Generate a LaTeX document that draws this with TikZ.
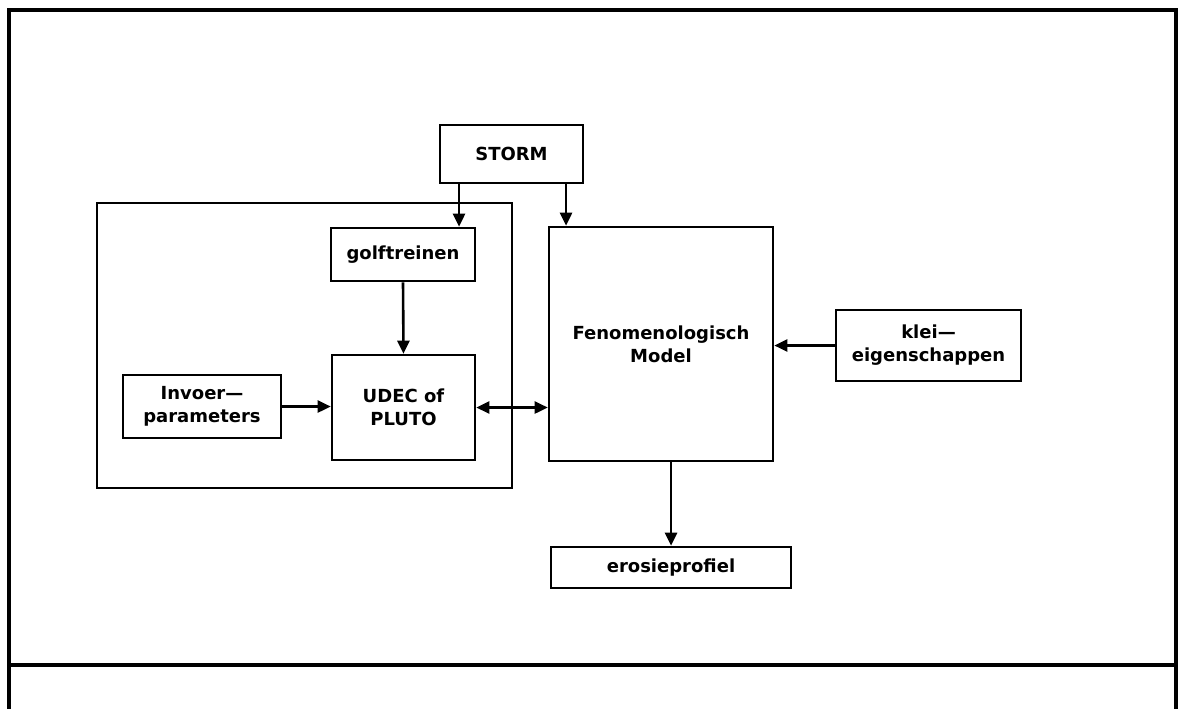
\documentclass[tikz,border=0pt]{standalone}
\usepackage{fontspec}
\setmainfont{DejaVu Sans}
\usetikzlibrary{arrows.meta}
\begin{document}
\begin{tikzpicture}[x=1pt,y=-1pt,
  box/.style={draw,line width=2.6pt,inner sep=0pt,align=center,
    font=\bfseries\fontsize{18}{23}\selectfont},
  arr/.style={line width=2.6pt,-{Triangle[length=13pt,width=12pt]}},
  darr/.style={line width=2.6pt,{Triangle[length=13pt,width=12pt]}-{Triangle[length=13pt,width=12pt]}}]
\useasboundingbox (0,0) rectangle (1183,709);
% outer frame
\draw[line width=3.5pt] (9,709) -- (9,10) -- (1176,10) -- (1176,709);
\draw[line width=3.5pt] (9,665) -- (1176,665);
% group box
\draw[line width=2.8pt] (97,203) rectangle (512,488);
% nodes
\node[box,minimum width=143pt,minimum height=58pt] (storm) at (511.5,154) {STORM};
\node[box,minimum width=144pt,minimum height=53pt] (golf) at (403,254.5) {golftreinen};
\node[box,minimum width=143pt,minimum height=105pt] (udec) at (403.5,407.5) {UDEC of\\PLUTO};
\node[box,minimum width=158pt,minimum height=63pt] (invoer) at (202,406.5) {Invoer—\\parameters};
\node[box,minimum width=224pt,minimum height=234pt] (fenom) at (661,344) {Fenomenologisch\\Model};
\node[box,minimum width=185pt,minimum height=71pt] (klei) at (928.5,345.5) {klei—\\eigenschappen};
\node[box,minimum width=240pt,minimum height=41pt] (erosie) at (671,567.5) {erosieprofiel};
% connectors
\draw[arr] ([xshift=-52.5pt]storm.south) -- ([xshift=-52.5pt]storm.south |- golf.north);
\draw[arr] ([xshift=54.5pt]storm.south) -- ([xshift=54.5pt]storm.south |- fenom.north);
\draw[arr] (golf.south) -- (udec.north);
\draw[arr] (invoer.east) -- (invoer.east -| udec.west);
\draw[darr] (udec.east) -- (udec.east -| fenom.west);
\draw[arr] (klei.west) -- (klei.west -| fenom.east);
\draw[arr] ([xshift=10pt]fenom.south) -- ([xshift=10pt]fenom.south |- erosie.north);
\end{tikzpicture}
\end{document}
